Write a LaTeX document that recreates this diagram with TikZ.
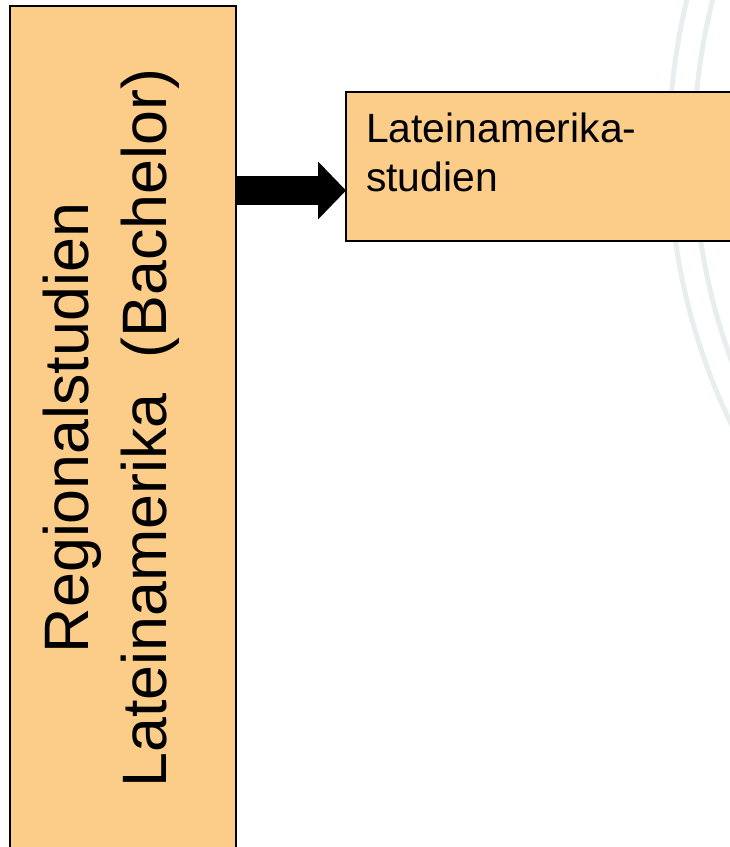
\documentclass[tikz,border=0pt]{standalone}
\usepackage{fontspec}
\setmainfont{Liberation Sans}
\usetikzlibrary{arrows.meta}
\definecolor{boxfill}{RGB}{252,204,137}
\definecolor{sealgray}{RGB}{232,238,238}
\begin{document}
\begin{tikzpicture}[x=1bp,y=-1bp,
  box/.style={rectangle,draw=black,line width=2bp,fill=boxfill,inner sep=0pt,outer sep=0pt},
  sealarc/.style={draw=sealgray,line width=5bp},
  blockarrow/.style={draw=black,line width=29bp,line cap=butt,-{Triangle[length=28bp,width=58bp,line width=0pt]}}]
\useasboundingbox (0,0) rectangle (730,847);
\clip (0,0) rectangle (730,847);
% faint background seal
\draw[sealarc] (1303,150) circle[radius=634bp];
\draw[sealarc] (1303,150) circle[radius=609bp];
% boxes
\node[box,minimum width=225.5bp,minimum height=844bp] (regio) at (122.75,428) {};
\node[box,minimum width=434bp,minimum height=149bp] (lat) at (563,166.5) {};
% texts
\node[rotate=90,align=center,inner sep=0pt,font=\fontsize{63}{78}\selectfont] (regiotext) at (111.5,428) {Regionalstudien\\Lateinamerika\ \ (Bachelor)};
\node[anchor=north west,align=left,inner sep=0pt,font=\fontsize{41}{49}\selectfont] (lattext) at ([xshift=20bp,yshift=-21bp]lat.north west) {Lateinamerika-\\studien};
% arrow
\coordinate (ay) at (0,190.5);
\draw[blockarrow] (regio.east |- ay) -- (lat.west |- ay);
\end{tikzpicture}
\end{document}
